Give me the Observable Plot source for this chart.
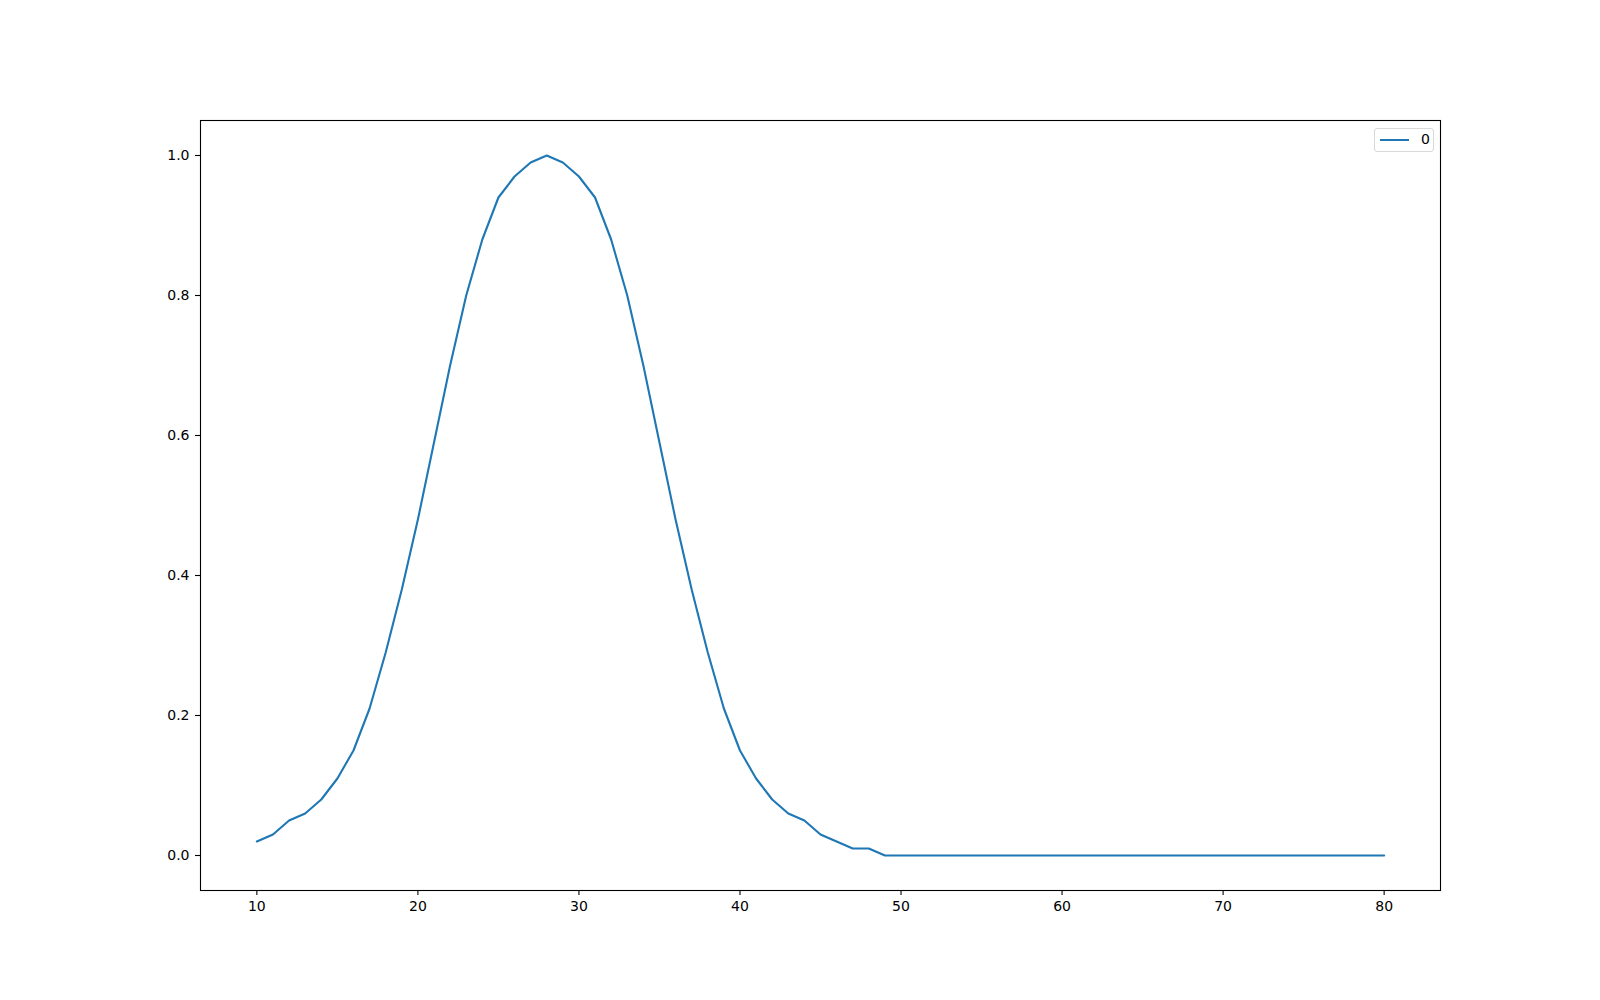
<!DOCTYPE html>
<html>
<head>
<meta charset="utf-8">
<script src="https://cdn.jsdelivr.net/npm/d3@7"></script>
<script src="https://cdn.jsdelivr.net/npm/@observablehq/plot@0.6"></script>
<style>
  html, body { margin: 0; padding: 0; background: #fff; }
  #wrap { position: relative; width: 1600px; height: 1000px; font-family: "DejaVu Sans", sans-serif; }
  #legend {
    position: absolute; left: 1374px; top: 128px; width: 60px; height: 24px;
    border: 1px solid #d9d9d9; border-radius: 3px; background: rgba(255,255,255,0.8);
    box-sizing: border-box; font-size: 14px; color: #000;
  }
  #legend .sw { position: absolute; left: 5px; top: 10px; width: 29px; height: 2px; background: #1f77b4; }
  #legend .lb { position: absolute; left: 46px; top: 3px; line-height: 15px; }
</style>
</head>
<body>
<div id="wrap"></div>
<script>
const xs = [10,11,12,13,14,15,16,17,18,19,20,21,22,23,24,25,26,27,28,29,30,31,32,33,34,35,36,37,38,39,40,41,42,43,44,45,46,47,48,49,50,51,52,53,54,55,56,57,58,59,60,61,62,63,64,65,66,67,68,69,70,71,72,73,74,75,76,77,78,79,80];
const ys = [0.02,0.03,0.05,0.06,0.08,0.11,0.15,0.21,0.29,0.38,0.48,0.59,0.70,0.80,0.88,0.94,0.97,0.99,1.00,0.99,0.97,0.94,0.88,0.80,0.70,0.59,0.48,0.38,0.29,0.21,0.15,0.11,0.08,0.06,0.05,0.03,0.02,0.01,0.01,0,0,0,0,0,0,0,0,0,0,0,0,0,0,0,0,0,0,0,0,0,0,0,0,0,0,0,0,0,0,0,0];
const xTicks = [10,20,30,40,50,60,70,80];
const yTicks = [0.0,0.2,0.4,0.6,0.8,1.0];
const seriesName = "0";

const data = xs.map((x, i) => ({x, y: ys[i]}));

const chart = Plot.plot({
  width: 1600,
  height: 1000,
  marginLeft: 200,
  marginRight: 160,
  marginTop: 120,
  marginBottom: 110,
  style: {fontFamily: "DejaVu Sans, sans-serif", fontSize: "14px", color: "#000", background: "#fff"},
  x: {domain: [6.5, 83.5], ticks: xTicks, tickFormat: d => String(d), label: null},
  y: {domain: [-0.05, 1.05], ticks: yTicks, tickFormat: d3.format(".1f"), label: null},
  marks: [
    Plot.axisX({ticks: xTicks, tickFormat: d => String(d), tickSize: 5, tickPadding: 6, fontSize: 14, stroke: "#000", strokeWidth: 1.1, strokeOpacity: 1, label: null}),
    Plot.axisY({ticks: yTicks, tickFormat: d3.format(".1f"), tickSize: 5, tickPadding: 6, fontSize: 14, stroke: "#000", strokeWidth: 1.1, strokeOpacity: 1, label: null}),
    Plot.line(data, {x: "x", y: "y", stroke: "#1f77b4", strokeWidth: 2.1}),
    Plot.frame({stroke: "#000", strokeWidth: 1.1})
  ]
});

const wrap = document.getElementById("wrap");
wrap.appendChild(chart);
const legend = document.createElement("div");
legend.id = "legend";
legend.innerHTML = `<div class="sw"></div><div class="lb">${seriesName}</div>`;
wrap.appendChild(legend);
</script>
</body>
</html>
